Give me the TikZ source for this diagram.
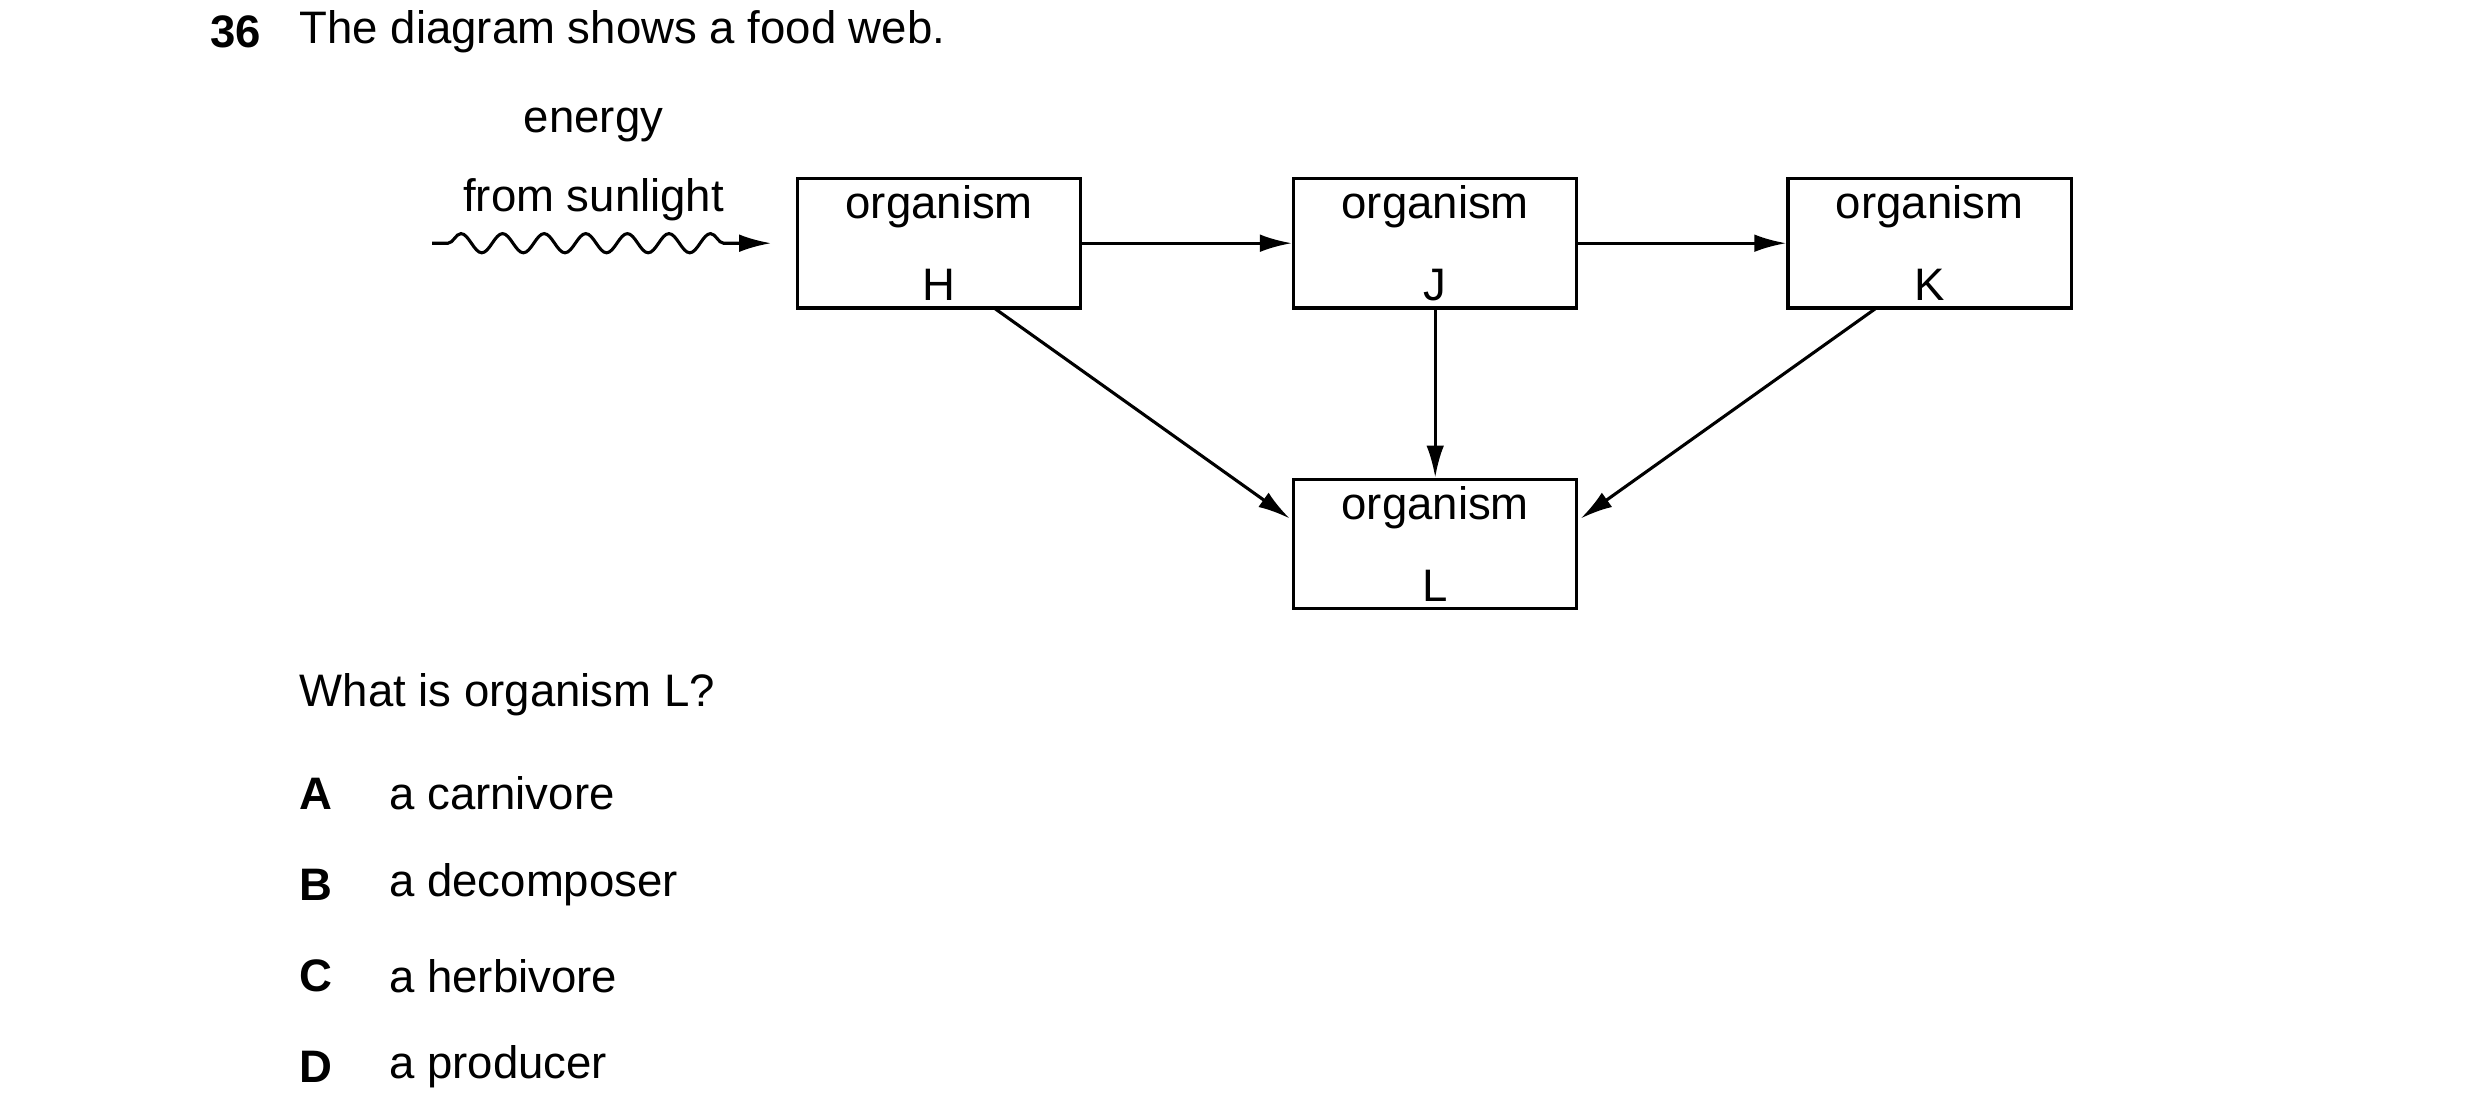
\documentclass[tikz,border=0pt]{standalone}
\usepackage{fontspec}
\setmainfont{Liberation Sans}
\usetikzlibrary{arrows.meta,decorations.pathmorphing}
\begin{document}
\begin{tikzpicture}[x=0.02cm,y=-0.02cm,
  txt/.style={font=\fontsize{16.2pt}{19pt}\selectfont,inner sep=0pt},
  box/.style={draw,line width=1.2pt,minimum width=3.54cm,minimum height=1.62cm,align=center,font=\fontsize{16.2pt}{19pt}\selectfont,inner sep=0pt},
  arr/.style={line width=1.1pt,-{Latex[length=0.4cm,width=0.22cm]}}]
\useasboundingbox (0,0) rectangle (1550,698.75);
\node[txt,anchor=west,font=\fontsize{16.2pt}{19pt}\selectfont\bfseries] (n) at (131,20) {36};
\node[txt,anchor=west] (t) at (187,20) {The diagram shows a food web.};
\node[txt,align=center] (e) at (371,103) {energy\\[9pt]from sunlight};
\node[box] (H) at (587,152) {organism\\[10pt]H};
\node[box] (J) at (897,152) {organism\\[10pt]J};
\node[box] (K) at (1206,152) {organism\\[10pt]K};
\node[box] (L) at (897,340) {organism\\[10pt]L};
\coordinate (s0) at (270,152);
\coordinate (s1) at (482,152);
\draw[arr,decorate,decoration={snake,amplitude=0.12cm,segment length=0.52cm,pre length=0.2cm,post length=0.55cm}] (s0) -- (s1);
\draw[arr] (H) -- (J);
\draw[arr] (J) -- (K);
\draw[arr] (J) -- (L);
\coordinate (h1) at (622,193);
\coordinate (l1) at (806,324);
\coordinate (k1) at (1172,193);
\coordinate (l2) at (988,324);
\draw[arr] (h1) -- (l1);
\draw[arr] (k1) -- (l2);
\node[txt,anchor=west] (q) at (187,434) {What is organism L?};
\foreach \l/\t/\y in {A/a carnivore/496,B/a decomposer/553,C/a herbivore/610,D/a producer/667}{
  \node[txt,anchor=west,font=\fontsize{16.2pt}{19pt}\selectfont\bfseries] (o\l) at (187,\y) {\l};
  \node[txt,anchor=west] (a\l) at (243,\y) {\t};
}
\end{tikzpicture}
\end{document}
